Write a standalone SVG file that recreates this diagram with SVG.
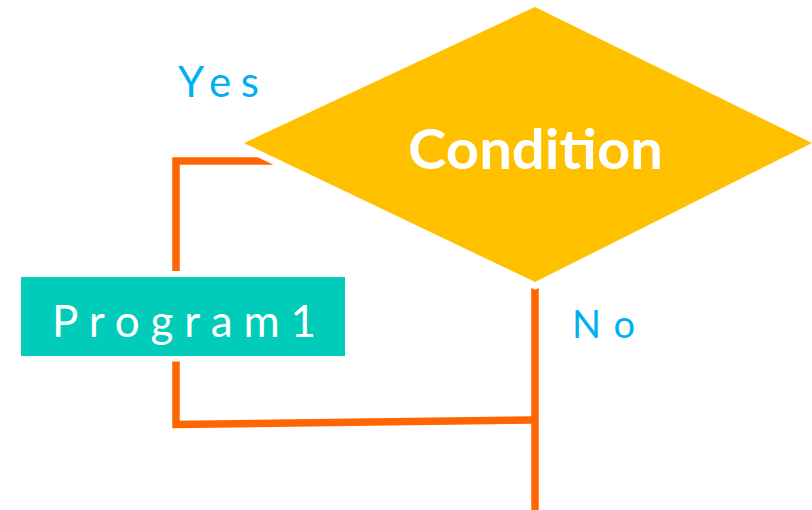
<svg xmlns="http://www.w3.org/2000/svg" width="812" height="510" viewBox="0 0 812 510">
  <style>
    .wire { fill: none; stroke: #FF6600; stroke-width: 7.5; stroke-linejoin: miter; stroke-linecap: butt; }
    .lbl { font-family: Lato, "Liberation Sans", sans-serif; fill: #00B0F0; }
    .node-text { font-family: Lato, "Liberation Sans", sans-serif; fill: #FFFFFF; }
  </style>
  <rect width="812" height="510" fill="#FFFFFF"/>
  <g id="connectors">
    <polyline class="wire" points="176,271 176,161 290,161"/>
    <polyline class="wire" points="176,361 176,424.5 535,420"/>
    <line class="wire" x1="535" y1="284" x2="535" y2="510"/>
  </g>
  <g id="condition">
    <polygon points="535,7 812,143 535,282 244,143" fill="#FFC000" stroke="#FFFFFF" stroke-width="14" stroke-linejoin="miter" paint-order="stroke"/>
    <text class="node-text" x="408" y="169" font-size="56" font-weight="bold" textLength="255" lengthAdjust="spacingAndGlyphs">Condition</text>
  </g>
  <g id="program1">
    <rect x="21" y="277" width="324" height="79" fill="#00CCB9" stroke="#FFFFFF" stroke-width="11" paint-order="stroke"/>
    <text class="node-text" x="52" y="337" font-size="44" textLength="264" lengthAdjust="spacing">Program1</text>
  </g>
  <g id="labels">
    <text class="lbl" x="178" y="97" font-size="42" textLength="81" lengthAdjust="spacing">Yes</text>
    <text class="lbl" x="572" y="338" font-size="38" textLength="63" lengthAdjust="spacing">No</text>
  </g>
</svg>
